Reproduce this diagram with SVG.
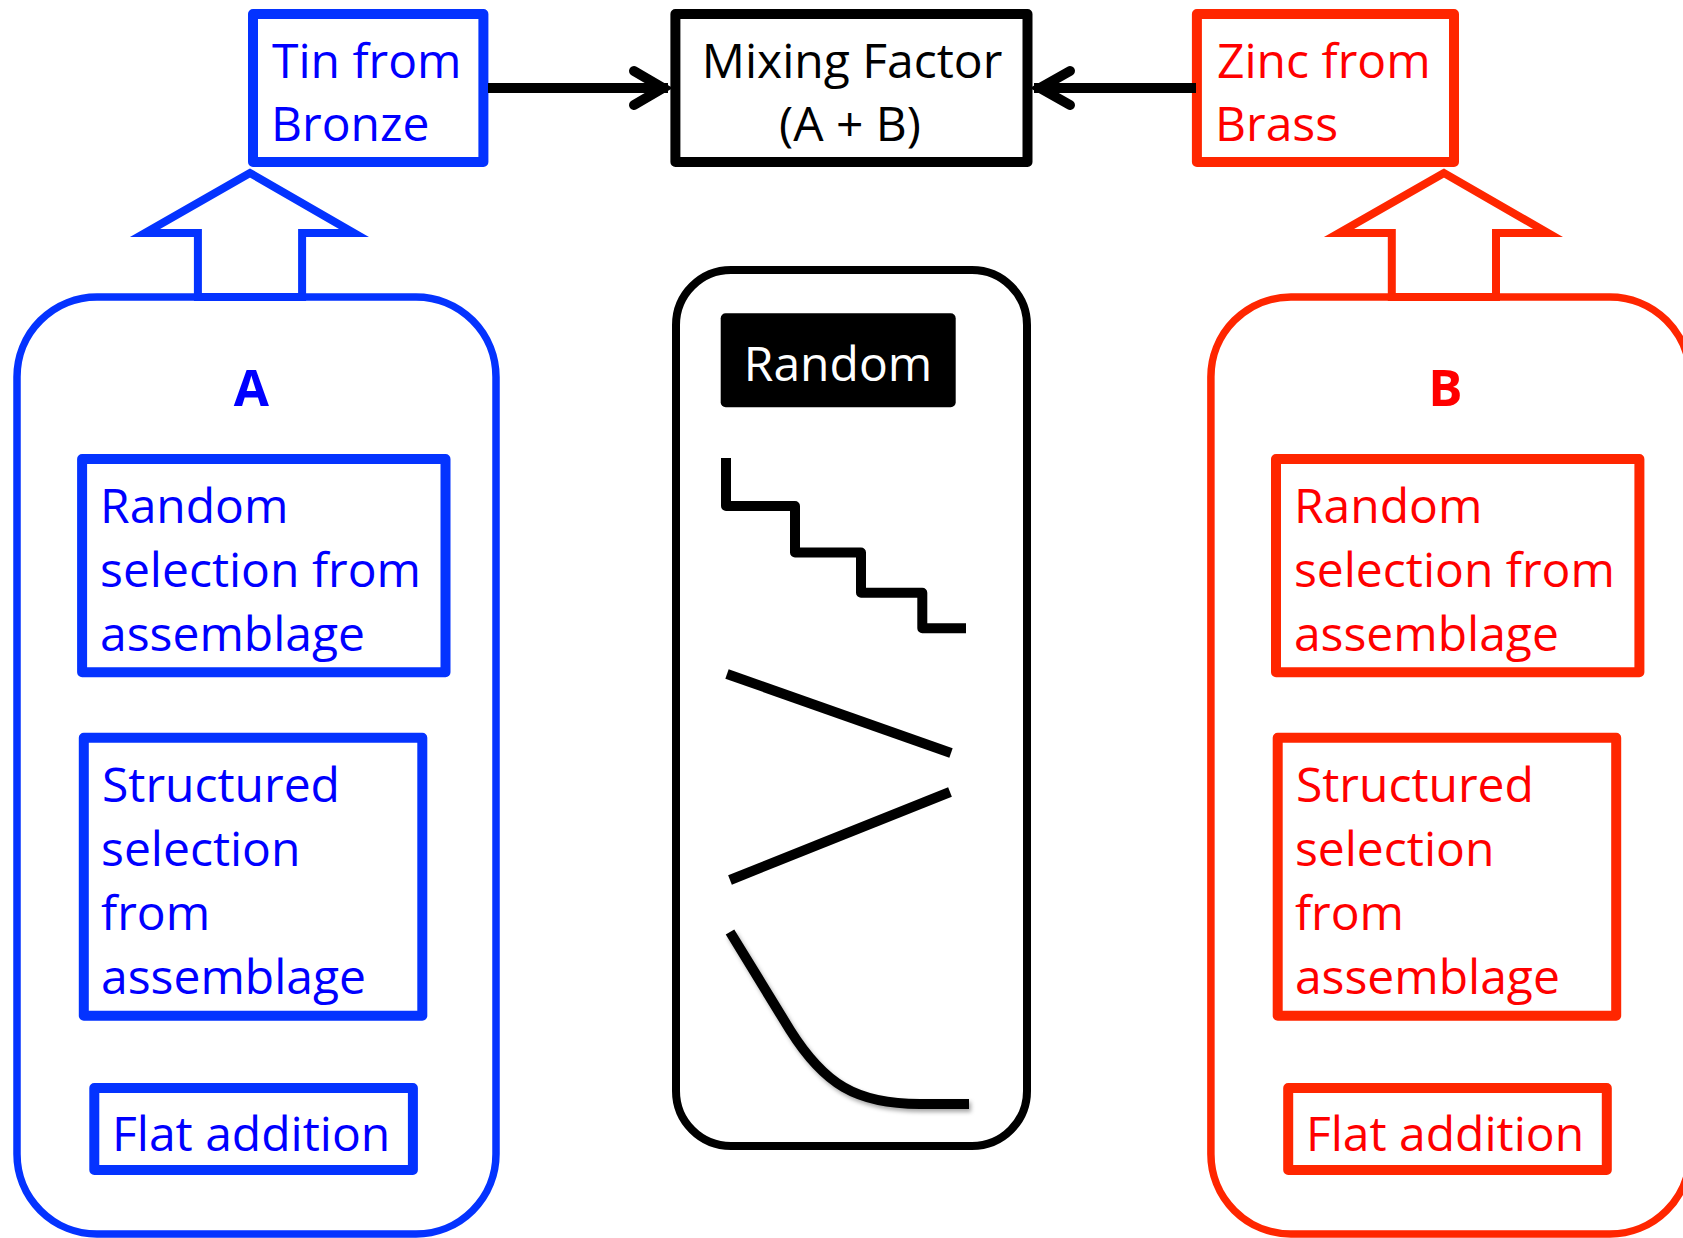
<svg xmlns="http://www.w3.org/2000/svg" width="1683" height="1238" viewBox="0 0 1683 1238">
<style>
  text { font-family: "Open Sans", "Noto Sans", "Liberation Sans", sans-serif; font-size: 48px; }
  .bt { fill: #0000FF; }
  .rt { fill: #FF0000; }
  .kt { fill: #000000; }
  .bbox { fill: none; stroke: #0433FF; stroke-width: 10; stroke-linejoin: round; }
  .rbox { fill: none; stroke: #FF2600; stroke-width: 10; stroke-linejoin: round; }
  .kbox { fill: none; stroke: #000000; stroke-width: 10; stroke-linejoin: round; }
  .bpanel { fill: none; stroke: #0433FF; stroke-width: 7.5; }
  .rpanel { fill: none; stroke: #FF2600; stroke-width: 7.5; }
  .barrow { fill: none; stroke: #0433FF; stroke-width: 8; stroke-linejoin: miter; }
  .rarrow { fill: none; stroke: #FF2600; stroke-width: 8; stroke-linejoin: miter; }
  .conn { fill: none; stroke: #000; stroke-width: 10; }
  .head { fill: none; stroke: #000; stroke-width: 10; stroke-linecap: round; stroke-linejoin: miter; }
  .glyph { fill: none; stroke: #000; stroke-width: 10; }
  .big { font-weight: bold; font-size: 51px; }
</style>
<defs>
  <filter id="shadow" x="-20%" y="-20%" width="140%" height="140%">
    <feDropShadow dx="2" dy="3" stdDeviation="2" flood-color="#000" flood-opacity="0.35"/>
  </filter>
</defs>
<rect x="0" y="0" width="1683" height="1238" fill="#fff"/>

<!-- Top nodes -->
<g id="tin">
  <rect class="bbox" x="253" y="14" width="230.4" height="148"/>
  <text class="bt" x="272" y="78">Tin from</text>
  <text class="bt" x="271" y="141">Bronze</text>
</g>
<g id="mixing">
  <rect class="kbox" x="675.4" y="14" width="352.1" height="148"/>
  <text class="kt" x="852" y="78" text-anchor="middle">Mixing Factor</text>
  <text class="kt" x="850" y="141" text-anchor="middle">(A + B)</text>
</g>
<g id="zinc">
  <rect class="rbox" x="1196.9" y="14" width="257.1" height="148"/>
  <text class="rt" x="1217" y="78">Zinc from</text>
  <text class="rt" x="1215" y="141">Brass</text>
</g>

<!-- Connectors -->
<g id="connectors">
  <line class="conn" x1="488" y1="88" x2="668" y2="88"/>
  <polyline class="head" points="634,71 663,88 634,105"/>
  <line class="conn" x1="1196" y1="88" x2="1034" y2="88"/>
  <polyline class="head" points="1070,71 1040,88 1070,105"/>
  <polygon class="barrow" points="250,173 145,233 197.9,233 197.9,297 302.1,297 302.1,233 354,233"/>
  <polygon class="rarrow" points="1444,173 1339,233 1391.8,233 1391.8,297 1496,297 1496,233 1548,233"/>
</g>

<!-- Panel A -->
<g id="panelA">
  <rect class="bpanel" x="17" y="297" width="479" height="937" rx="80" ry="80"/>
  <text class="bt big" x="251.4" y="406" text-anchor="middle">A</text>
  <g id="a-random">
    <rect class="bbox" x="82.1" y="459" width="363.4" height="213.3"/>
    <text class="bt" x="100" y="523">Random</text>
    <text class="bt" x="100" y="587">selection from</text>
    <text class="bt" x="100" y="651">assemblage</text>
  </g>
  <g id="a-structured">
    <rect class="bbox" x="83.8" y="737.7" width="338.5" height="278"/>
    <text class="bt" x="102" y="802">Structured</text>
    <text class="bt" x="101" y="866">selection</text>
    <text class="bt" x="101" y="930">from</text>
    <text class="bt" x="101" y="994">assemblage</text>
  </g>
  <g id="a-flat">
    <rect class="bbox" x="94.3" y="1088" width="318.6" height="82"/>
    <text class="bt" x="112" y="1151">Flat addition</text>
  </g>
</g>

<!-- Panel B -->
<g id="panelB" transform="translate(1193.9,0)">
  <rect class="rpanel" x="17" y="297" width="479" height="937" rx="80" ry="80"/>
  <text class="rt big" x="251.4" y="406" text-anchor="middle">B</text>
  <g id="b-random">
    <rect class="rbox" x="82.1" y="459" width="363.4" height="213.3"/>
    <text class="rt" x="100" y="523">Random</text>
    <text class="rt" x="100" y="587">selection from</text>
    <text class="rt" x="100" y="651">assemblage</text>
  </g>
  <g id="b-structured">
    <rect class="rbox" x="83.8" y="737.7" width="338.5" height="278"/>
    <text class="rt" x="102" y="802">Structured</text>
    <text class="rt" x="101" y="866">selection</text>
    <text class="rt" x="101" y="930">from</text>
    <text class="rt" x="101" y="994">assemblage</text>
  </g>
  <g id="b-flat">
    <rect class="rbox" x="94.3" y="1088" width="318.6" height="82"/>
    <text class="rt" x="112" y="1151">Flat addition</text>
  </g>
</g>

<!-- Middle panel -->
<g id="middle">
  <rect fill="none" stroke="#000" stroke-width="8" x="676" y="270" width="351" height="876" rx="55" ry="55"/>
  <g id="random-label">
    <rect fill="#000" x="720.7" y="313.3" width="235" height="94" rx="5" ry="5"/>
    <text fill="#fff" x="838" y="381" text-anchor="middle">Random</text>
  </g>
  <path class="glyph" stroke-linejoin="round" d="M726,458 V506 H795 V552.5 H861 V592.7 H922.3 V628.3 H966"/>
  <line class="glyph" x1="727" y1="674" x2="951" y2="753"/>
  <line class="glyph" x1="730" y1="880" x2="950" y2="792"/>
  <path class="glyph" filter="url(#shadow)" d="M730,932 L790,1030 C824,1084 856,1104 920,1104 L969,1104"/>
</g>
</svg>
